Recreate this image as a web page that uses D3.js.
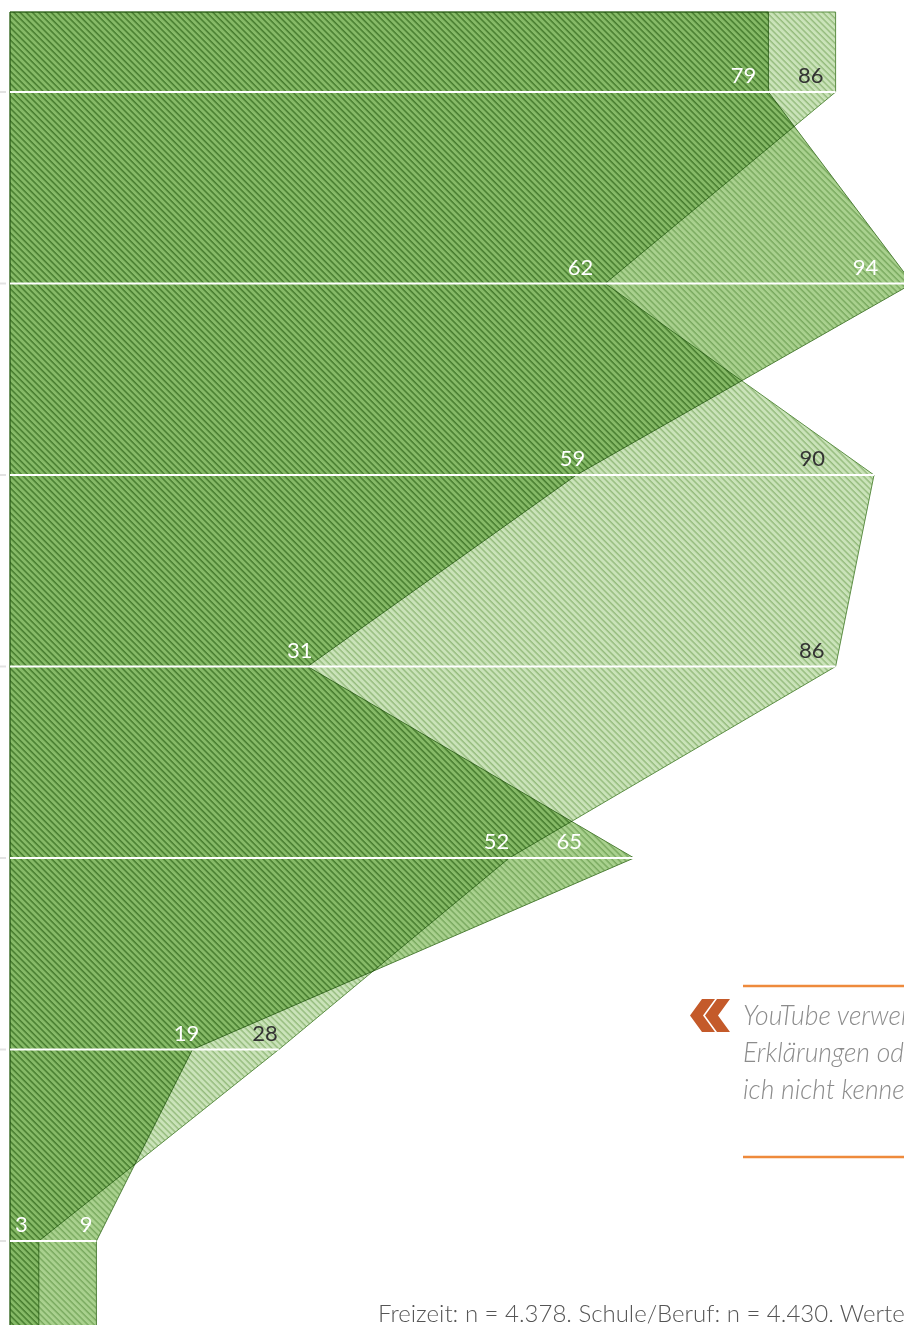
<!DOCTYPE html>
<html>
<head>
<meta charset="utf-8">
<title></title>
<style type="text/css">
  html, body { margin: 0; padding: 0; background: #fff; }
  svg { display: block; }
  text { font-family: Lato, "Open Sans", sans-serif; }
</style>
<script src="https://cdn.jsdelivr.net/npm/d3@7"></script>
</head>
<body>
<svg width="904" height="1325"></svg>
<script>
// values per row, top to bottom
var freizeit = [79, 62, 59, 31, 52, 19, 3];
var schule = [86, 94, 90, 86, 65, 28, 9];
// the two outlines swap between the series from row to row
var shapeDark = [79, 94, 59, 31, 65, 19, 9];
var shapeLight = [86, 62, 90, 86, 52, 28, 3];
var quoteLines = ["YouTube verwende ich für", "Erklärungen oder Dinge, die", "ich nicht kenne."];
var footnote = "Freizeit: n = 4.378. Schule/Beruf: n = 4.430. Werte in Prozent.";

// label nudges in px (freizeit, schule) per row
var labelNudge = [[0, 0], [0, -22], [21, -37], [17, 1], [12, -40], [19, 11], [1, 8]];

var svg = d3.select("svg");
var width = +svg.attr("width");
var height = +svg.attr("height");

var x = d3.scaleLinear().domain([0, 100]).range([10, 970]);
var y = d3.scaleLinear().domain([0, freizeit.length - 1]).range([92, 1241]);
var top0 = 12, bottom0 = 1340;

var defs = svg.append("defs");
function hatch(id, bg, line) {
    var s = 4.4;
    var p = defs.append("pattern")
        .attr("id", id)
        .attr("patternUnits", "userSpaceOnUse")
        .attr("width", s).attr("height", s)
        .attr("patternTransform", "rotate(-45)");
    p.append("rect").attr("width", s).attr("height", s).attr("fill", bg);
    p.append("line").attr("x1", 1).attr("y1", 0).attr("x2", 1).attr("y2", s)
        .attr("stroke", line).attr("stroke-width", 1.1);
}
hatch("hatchLight", "#cae3b9", "#84ae6a");
hatch("hatchDark", "#a9d18e", "#6a9c50");

function outline(vals) {
    var pts = [[x(0), top0], [x(vals[0]), top0]];
    vals.forEach(function(v, i) { pts.push([x(v), y(i)]); });
    pts.push([x(vals[vals.length - 1]), bottom0]);
    pts.push([x(0), bottom0]);
    return pts;
}
var line = d3.line();

svg.append("path")
    .attr("d", line(outline(shapeLight)) + "Z")
    .attr("fill", "url(#hatchLight)")
    .attr("stroke", "#5d8f45")
    .attr("stroke-width", 1);

svg.append("path")
    .attr("d", line(outline(shapeDark)) + "Z")
    .attr("fill", "url(#hatchDark)")
    .attr("stroke", "#4f8038")
    .attr("stroke-width", 1)
    .style("mix-blend-mode", "multiply");

// row lines
var rows = d3.range(freizeit.length);
svg.append("g").selectAll("line")
    .data(rows).enter().append("line")
    .attr("x1", 0).attr("x2", 6)
    .attr("y1", function(d) { return y(d); })
    .attr("y2", function(d) { return y(d); })
    .attr("stroke", "#e2e2e2").attr("stroke-width", 2);
svg.append("g").selectAll("line")
    .data(rows).enter().append("line")
    .attr("x1", x(0))
    .attr("x2", function(d) { return x(Math.max(shapeDark[d], shapeLight[d])); })
    .attr("y1", function(d) { return y(d); })
    .attr("y2", function(d) { return y(d); })
    .attr("stroke", "#fff").attr("stroke-width", 2);

// value labels
var labels = [];
rows.forEach(function(i) {
    labels.push({ v: freizeit[i], row: i, dx: labelNudge[i][0] });
    labels.push({ v: schule[i], row: i, dx: labelNudge[i][1] });
});
svg.append("g").selectAll("text")
    .data(labels).enter().append("text")
    .attr("x", function(d) { return x(d.v) - 12 + d.dx; })
    .attr("y", function(d) { return y(d.row) - 9; })
    .attr("text-anchor", "end")
    .attr("font-size", 22)
    .attr("fill", function(d) {
        // white where the darker outline covers the label
        return shapeDark[d.row] >= d.v ? "#fff" : "#333";
    })
    .text(function(d) { return d.v; });

// quote box
var q = svg.append("g");
q.append("line").attr("x1", 743).attr("x2", width).attr("y1", 986).attr("y2", 986)
    .attr("stroke", "#ee8a3c").attr("stroke-width", 2.5);
q.append("line").attr("x1", 743).attr("x2", width).attr("y1", 1157).attr("y2", 1157)
    .attr("stroke", "#ee8a3c").attr("stroke-width", 2.5);
q.append("path")
    .attr("d", "M702,999 L715,999 L703,1015.5 L715,1032 L702,1032 L690,1015.5 Z M717,999 L730,999 L718,1015.5 L730,1032 L717,1032 L705,1015.5 Z")
    .attr("fill", "#c45a2a");
q.selectAll("text.quote")
    .data(quoteLines).enter().append("text")
    .attr("class", "quote")
    .attr("x", 743)
    .attr("y", function(d, i) { return 1025 + i * 37; })
    .attr("font-size", 26.5)
    .attr("font-style", "italic")
    .attr("font-weight", 300)
    .attr("fill", "#8c8c8c")
    .text(function(d) { return d; });

svg.append("text")
    .attr("x", 378).attr("y", 1322)
    .attr("font-size", 24)
    .attr("font-weight", 300)
    .attr("fill", "#555")
    .text(footnote);
</script>
</body>
</html>
